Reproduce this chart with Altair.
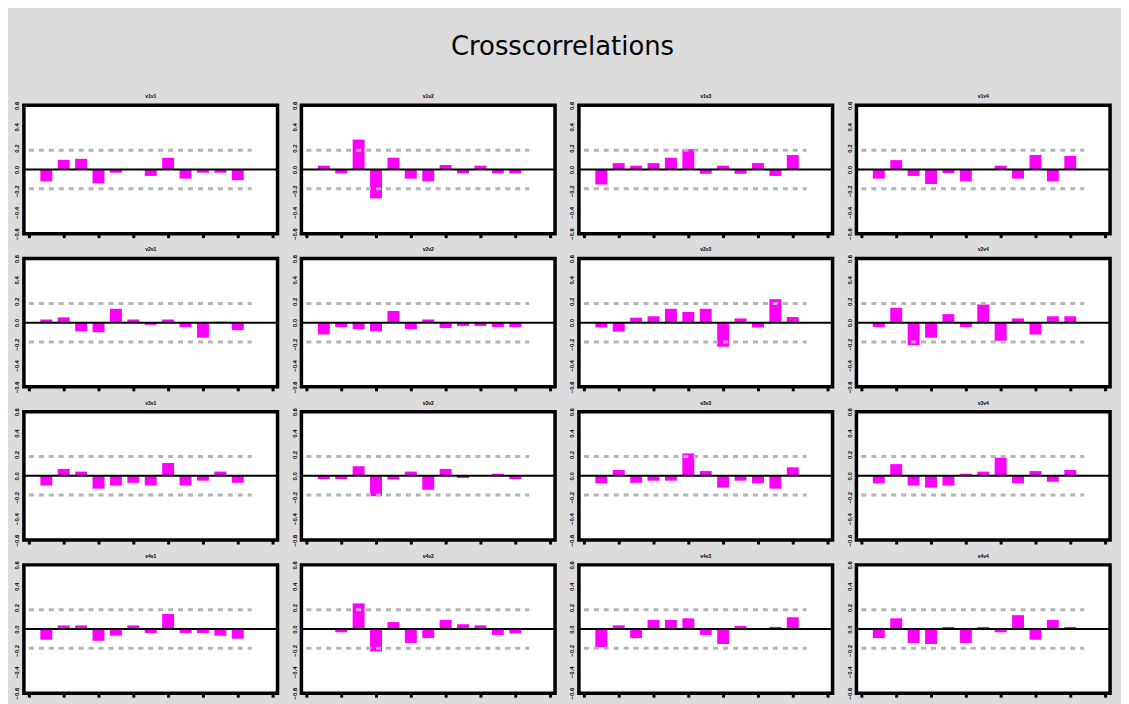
import altair as alt
import pandas as pd

# ---- data ----
panels = ["v1v1", "v1v2", "v1v3", "v1v4",
          "v2v1", "v2v2", "v2v3", "v2v4",
          "v3v1", "v3v2", "v3v3", "v3v4",
          "v4v1", "v4v2", "v4v3", "v4v4"]
lags = [1, 2, 3, 4, 5, 6, 7, 8, 9, 10, 11, 12]

ccf_v1v1 = [-0.11, 0.09, 0.10, -0.13, -0.03, 0.005, -0.06, 0.11, -0.085, -0.03, -0.03, -0.10]
ccf_v1v2 = [0.036, -0.036, 0.28, -0.27, 0.11, -0.085, -0.11, 0.042, -0.036, 0.036, -0.036, -0.036]
ccf_v1v3 = [-0.14, 0.06, 0.036, 0.06, 0.11, 0.19, -0.04, 0.036, -0.04, 0.06, -0.06, 0.136]
ccf_v1v4 = [-0.085, 0.088, -0.06, -0.136, -0.033, -0.11, 0.004, 0.036, -0.085, 0.136, -0.11, 0.127]
ccf_v2v1 = [0.03, 0.05, -0.08, -0.09, 0.13, 0.03, -0.02, 0.03, -0.04, -0.14, 0.01, -0.07]
ccf_v2v2 = [-0.11, -0.04, -0.06, -0.08, 0.11, -0.06, 0.03, -0.05, -0.03, -0.03, -0.04, -0.04]
ccf_v2v3 = [-0.044, -0.084, 0.047, 0.06, 0.13, 0.10, 0.13, -0.225, 0.04, -0.044, 0.22, 0.053]
ccf_v2v4 = [-0.04, 0.14, -0.21, -0.14, 0.08, -0.04, 0.17, -0.17, 0.04, -0.11, 0.06, 0.06]
ccf_v3v1 = [-0.09, 0.065, 0.04, -0.12, -0.09, -0.065, -0.09, 0.12, -0.09, -0.045, 0.04, -0.065]
ccf_v3v2 = [-0.03, -0.03, 0.09, -0.19, -0.035, 0.04, -0.13, 0.065, -0.02, 0.004, 0.02, -0.03]
ccf_v3v3 = [-0.07, 0.055, -0.065, -0.045, -0.045, 0.21, 0.045, -0.11, -0.045, -0.07, -0.12, 0.08]
ccf_v3v4 = [-0.07, 0.11, -0.09, -0.11, -0.09, 0.02, 0.04, 0.17, -0.07, 0.045, -0.055, 0.055]
ccf_v4v1 = [-0.10, 0.034, 0.034, -0.11, -0.062, 0.034, -0.037, 0.14, -0.037, -0.037, -0.062, -0.09]
ccf_v4v2 = [0.004, -0.03, 0.24, -0.21, 0.065, -0.13, -0.085, 0.085, 0.045, 0.035, -0.055, -0.04]
ccf_v4v3 = [-0.17, 0.035, -0.085, 0.085, 0.085, 0.10, -0.055, -0.14, 0.03, 0.004, 0.02, 0.11]
ccf_v4v4 = [-0.085, 0.10, -0.13, -0.14, 0.02, -0.13, 0.02, -0.03, 0.13, -0.10, 0.085, 0.02]

series = [ccf_v1v1, ccf_v1v2, ccf_v1v3, ccf_v1v4,
          ccf_v2v1, ccf_v2v2, ccf_v2v3, ccf_v2v4,
          ccf_v3v1, ccf_v3v2, ccf_v3v3, ccf_v3v4,
          ccf_v4v1, ccf_v4v2, ccf_v4v3, ccf_v4v4]

conf_band = 0.18
conf_end = 12.8
y_ticks = [-0.6, -0.4, -0.2, 0.0, 0.2, 0.4, 0.6]
x_ticks = [0, 2, 4, 6, 8, 10, 12, 14]

rows = []
for name, vals in zip(panels, series):
    for lag, v in zip(lags, vals):
        rows.append({"panel": name, "lag": lag, "value": v})
df = pd.DataFrame(rows)

xscale = alt.Scale(domain=[0, 14], nice=False, zero=False)
yscale = alt.Scale(domain=[-0.6, 0.6], nice=False)

x_axis = alt.Axis(values=x_ticks, tickCount=len(x_ticks), labels=False, ticks=True,
                  tickSize=4, tickWidth=3, tickColor="black", domain=False, grid=False,
                  title=None)
y_axis = alt.Axis(values=y_ticks, tickCount=len(y_ticks), format=".1f", labelAngle=270,
                  labelFontSize=6, labelFontWeight="bold", labelColor="black", tickSize=2,
                  tickWidth=1.5, tickColor="black", domain=False, grid=False, title=None,
                  labelPadding=2, labelOverlap=False, labelBound=False, labelFlush=False)

base = alt.Chart()

bars = base.mark_bar(color="#ff00ff", size=12).encode(
    x=alt.X("lag:Q", scale=xscale, axis=x_axis),
    y=alt.Y("value:Q", scale=yscale, axis=y_axis),
)

first = base.transform_filter(alt.datum.lag == 1)

conf_up = first.mark_rule(color="#b4b4b4", strokeWidth=3, strokeDash=[5, 5]).encode(
    x=alt.datum(0), x2=alt.datum(conf_end), y=alt.datum(conf_band))
conf_lo = first.mark_rule(color="#b4b4b4", strokeWidth=3, strokeDash=[5, 5]).encode(
    x=alt.datum(0), x2=alt.datum(conf_end), y=alt.datum(-conf_band))
zero_line = first.mark_rule(color="black", strokeWidth=2).encode(y=alt.datum(0))

panel = alt.layer(bars, conf_up, conf_lo, zero_line).properties(width=255, height=129)

chart = panel.facet(
    data=df,
    facet=alt.Facet("panel:N", sort=panels,
                    header=alt.Header(title=None, labelFontSize=5, labelFontWeight="bold",
                                      labelPadding=2, labelColor="black")),
    columns=4,
    spacing={"row": 25, "column": 24},
    bounds="flush",
).resolve_axis(x="independent", y="independent").properties(
    title=alt.TitleParams("Crosscorrelations", fontSize=26, font="DejaVu Sans",
                          fontWeight="normal", color="black", anchor="middle", offset=33)
).configure(
    background="#dcdcdc",
    padding={"top": 24, "left": 4, "right": 8, "bottom": 4},
).configure_view(stroke="black", strokeWidth=3.5, fill="white")

chart.save("out.html", embed_options={"renderer": "svg", "actions": False})
